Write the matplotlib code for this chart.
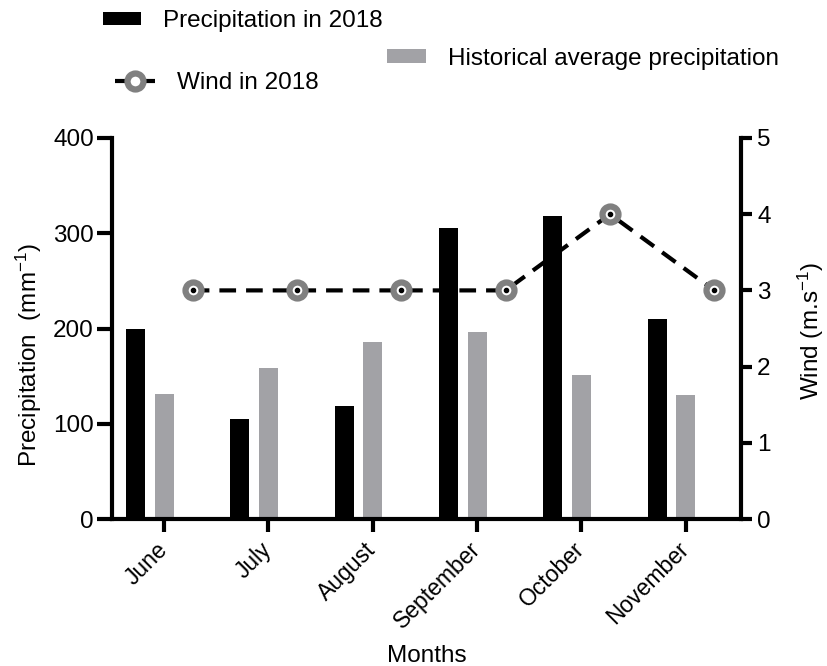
import matplotlib
matplotlib.use('Agg')
import matplotlib.pyplot as plt
from matplotlib.transforms import ScaledTranslation
import numpy as np

# ---- data ----
months = ['June', 'July', 'August', 'September', 'October', 'November']
precip_2018 = [200, 105, 119, 305, 318, 210]
precip_hist = [131, 159, 186, 196, 151, 130]
wind_2018 = [3, 3, 3, 3, 4, 3]
left_ticks = [0, 100, 200, 300, 400]
right_ticks = [0, 1, 2, 3, 4, 5]

plt.rcParams['font.family'] = ['Liberation Sans', 'DejaVu Sans']
plt.rcParams['mathtext.fontset'] = 'custom'
plt.rcParams['mathtext.rm'] = 'Liberation Sans'
plt.rcParams['mathtext.it'] = 'Liberation Sans:italic'
plt.rcParams['mathtext.bf'] = 'Liberation Sans:bold'

FS = 17.5
XFS = 16.5
GREY = '#a2a2a6'
RING = '#808080'

W, H = 828, 666
fig = plt.figure(figsize=(W / 100, H / 100), dpi=100)
ax = fig.add_axes([112 / W, (H - 519) / H, 629 / W, 381 / H])

x = np.arange(len(months))
off = 0.274
bw = 0.182
b1 = ax.bar(x - off, precip_2018, bw, color='black', label='Precipitation in 2018')
b2 = ax.bar(x, precip_hist, bw, color=GREY, label='Historical average precipitation')

ax.set_xlim(-0.5, 5.53)
ax.set_ylim(0, 400)
ax.set_yticks(left_ticks)
ax.set_xticks(x)
ax.set_xticklabels(months, rotation=45, ha='right', va='center',
                   rotation_mode='anchor', fontsize=XFS)
shift = ScaledTranslation(5 / 100, 0, fig.dpi_scale_trans)
for lab in ax.get_xticklabels():
    lab.set_transform(lab.get_transform() + shift)

for s in ['top', 'right']:
    ax.spines[s].set_visible(False)
for s in ['left', 'bottom']:
    ax.spines[s].set_linewidth(3)

ax.tick_params(axis='y', length=11, width=3, pad=2, labelsize=FS)
ax.tick_params(axis='x', length=9.4, width=3, pad=10, labelsize=XFS)

ax.set_ylabel('Precipitation  (mm$^{-1}$)', fontsize=FS)
ax.yaxis.set_label_coords(-0.108, 0.43)
ax.set_xlabel('Months', fontsize=FS)
ax.xaxis.set_label_coords(0.5, -0.33)

ax2 = ax.twinx()
ax2.set_ylim(0, 5)
ax2.set_yticks(right_ticks)
for s in ['top', 'left', 'bottom']:
    ax2.spines[s].set_visible(False)
ax2.spines['right'].set_linewidth(3)
ax2.tick_params(axis='y', length=7.7, width=3, pad=4, labelsize=FS)

line, = ax2.plot(x + off, wind_2018, color='black', lw=3, dashes=(4.0, 2.4),
                 marker='o', ms=11.5, mfc='white', mec=RING, mew=4.5,
                 label='Wind in 2018', clip_on=False)
ax2.plot(x + off, wind_2018, linestyle='none', marker='o', ms=3,
         color='black', clip_on=False, zorder=5)
ax2.set_ylabel('Wind (m.s$^{-1}$)', fontsize=FS)
ax2.yaxis.set_label_coords(1.087, 0.493)

common = dict(loc='center left', frameon=False, borderpad=0, borderaxespad=0,
              handletextpad=0.9, fontsize=FS)
fig.legend(handles=[b1], labels=['Precipitation in 2018'],
           bbox_to_anchor=(103 / W, 1 - 21 / H), handlelength=1.55,
           handleheight=0.42, **common)
fig.legend(handles=[b2], labels=['Historical average precipitation'],
           bbox_to_anchor=(387 / W, 1 - 59 / H), handlelength=1.6,
           handleheight=0.5, **common)
fig.legend(handles=[line], labels=['Wind in 2018'],
           bbox_to_anchor=(115 / W, 1 - 83 / H), handlelength=1.65,
           **common)

fig.savefig('out.png', dpi=100)
